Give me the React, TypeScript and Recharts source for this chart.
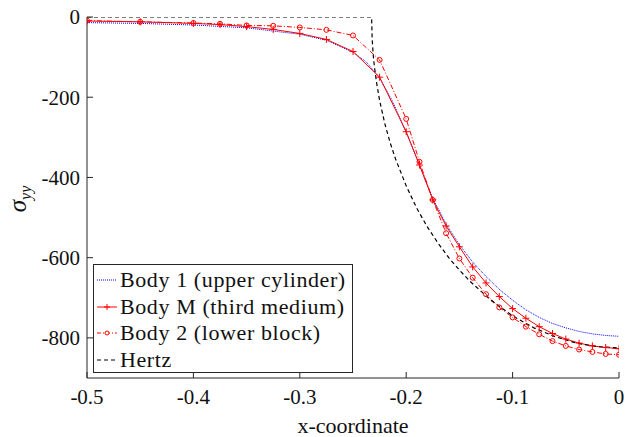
import { LineChart, Line, XAxis, YAxis, Legend } from "recharts";

// mesh nodes shared by Body M and Body 2
const nodeX = [
  -0.5, -0.45, -0.4, -0.375, -0.35, -0.325, -0.3, -0.275, -0.25, -0.225, -0.2,
  -0.1875, -0.175, -0.1625, -0.15, -0.1375, -0.125, -0.1125, -0.1, -0.0875,
  -0.075, -0.0625, -0.05, -0.0375, -0.025, -0.0125, 0,
];
const bodyM = [
  -10, -12, -16, -19, -24, -31, -41, -56, -86, -150, -286, -369, -456, -521,
  -573, -623, -663, -697, -727, -751, -772, -789, -803, -813, -820, -824, -827,
];
const body2 = [
  -9, -12, -15, -17, -21, -22, -26, -32, -46, -107, -254, -361, -456, -539,
  -602, -650, -691, -724, -749, -772, -791, -808, -820, -829, -835, -840, -842,
];

const body1X = [
  -0.5, -0.45, -0.4, -0.35, -0.3, -0.275, -0.25, -0.2375, -0.225, -0.2125, -0.2,
  -0.1875, -0.175, -0.1625, -0.15, -0.1375, -0.125, -0.1125, -0.1, -0.0875,
  -0.075, -0.0625, -0.05, -0.0375, -0.025, -0.0125, 0,
];
const body1 = [
  -14, -16, -20, -27, -43, -58, -88, -112, -152, -212, -288, -370, -452, -516,
  -568, -611, -647, -679, -706, -730, -749, -764, -775, -784, -790, -794, -796,
];

const hertzX = [
  -0.5, -0.3, -0.2325, -0.232, -0.231, -0.23, -0.228, -0.225, -0.22, -0.215,
  -0.21, -0.2, -0.19, -0.18, -0.17, -0.16, -0.15, -0.14, -0.12, -0.1, -0.08,
  -0.06, -0.04, -0.02, 0,
];
const hertz = [
  0, 0, 0, -54, -94, -121, -161, -208, -267, -314, -354, -421, -477, -524, -564,
  -600, -631, -659, -707, -745, -775, -797, -813, -822, -825,
];

const xTicks = [-0.5, -0.4, -0.3, -0.2, -0.1, 0];
const yTicks = [-800, -600, -400, -200, 0];

const legendItems = [
  { name: "Body 1 (upper cylinder)", kind: "dot" },
  { name: "Body M (third medium)", kind: "plus" },
  { name: "Body 2 (lower block)", kind: "circle" },
  { name: "Hertz", kind: "dash" },
];

const mData = nodeX.map((x, i) => ({ x, y: bodyM[i] }));
const b2Data = nodeX.map((x, i) => ({ x, y: body2[i] }));
const b1Data = body1X.map((x, i) => ({ x, y: body1[i] }));
const hData = hertzX.map((x, i) => ({ x, y: hertz[i] }));

const FONT = '"Liberation Serif", serif';
const AXIS = "#262626";

// force the serif face on everything inside the chart
const css = `
#root .serif-chart, #root .serif-chart *, #root .serif-chart svg text, #root .serif-chart svg tspan {
  font-family: "Liberation Serif", "Times New Roman", serif !important;
}
`;

function PlusDot(props: any) {
  const { cx, cy } = props;
  if (cx == null || cy == null) return null;
  return (
    <path
      d={`M${cx - 3.5},${cy}H${cx + 3.5}M${cx},${cy - 3.5}V${cy + 3.5}`}
      stroke="#ff0000"
      strokeWidth={1}
    />
  );
}

function CircleDot(props: any) {
  const { cx, cy } = props;
  if (cx == null || cy == null) return null;
  return <circle cx={cx} cy={cy} r={2.5} fill="none" stroke="#ff0000" strokeWidth={1} />;
}

function Sample({ kind }: { kind: string }) {
  return (
    <svg width={22} height={10} style={{ marginRight: 2 }}>
      {kind === "dot" && (
        <line x1={1} y1={5} x2={21} y2={5} stroke="#0000ff" strokeDasharray="1 1" />
      )}
      {kind === "plus" && (
        <>
          <line x1={1} y1={5} x2={21} y2={5} stroke="#ff0000" />
          <path d="M8,5H14M11,2V8" stroke="#ff0000" />
        </>
      )}
      {kind === "circle" && (
        <>
          <line x1={1} y1={5} x2={21} y2={5} stroke="#ff0000" strokeDasharray="4 2 1 2" />
          <circle cx={11} cy={5} r={2} fill="#fff" stroke="#ff0000" />
        </>
      )}
      {kind === "dash" && (
        <line x1={1} y1={5} x2={21} y2={5} stroke="#000" strokeDasharray="4 3" />
      )}
    </svg>
  );
}

function LegendBox() {
  return (
    <div
      style={{
        border: `1px solid ${AXIS}`,
        background: "#fff",
        width: 260,
        height: 109,
        boxSizing: "border-box",
        padding: "2px 0 0 2px",
        fontFamily: FONT,
        fontSize: 22,
        letterSpacing: 0.6,
        color: "#111",
        textAlign: "left",
      }}
    >
      {legendItems.map((it) => (
        <div key={it.name} style={{ display: "flex", alignItems: "center", height: 26.5 }}>
          <Sample kind={it.kind} />
          <span style={{ lineHeight: "22px" }}>{it.name}</span>
        </div>
      ))}
    </div>
  );
}

function SigmaLabel() {
  return (
    <text
      transform="translate(26,199) rotate(-90)"
      textAnchor="middle"
      fontFamily={FONT}
      fontStyle="italic"
      fontSize={25}
      fill="#111"
    >
      σ
      <tspan fontSize={16} dy={5}>
        yy
      </tspan>
    </text>
  );
}

export default function App() {
  const tickStyle = { fill: "#111", fontSize: 21, fontFamily: FONT };
  return (
    <div
      className="serif-chart"
      style={{ position: "absolute", left: 0, top: 0, background: "#fff", fontFamily: FONT }}
    >
      <style>{css}</style>
      <LineChart
        width={634}
        height={437}
        margin={{ top: 17, right: 15, left: 0, bottom: 0 }}
        style={{ fontFamily: FONT }}
      >
        <XAxis
          dataKey="x"
          type="number"
          domain={[-0.5, 0]}
          ticks={xTicks}
          allowDataOverflow
          height={59}
          tickSize={-6}
          tickMargin={17}
          tick={tickStyle}
          stroke={AXIS}
          label={{
            value: "x-coordinate",
            position: "insideBottom",
            offset: 4,
            fill: "#111",
            fontSize: 22,
            fontFamily: FONT,
          }}
        />
        <XAxis
          xAxisId="top"
          orientation="top"
          type="number"
          domain={[-0.5, 0]}
          ticks={xTicks}
          allowDataOverflow
          height={0}
          tickSize={-6}
          tick={false}
          stroke={AXIS}
        />
        <YAxis
          type="number"
          domain={[-900, 0]}
          ticks={yTicks}
          allowDataOverflow
          width={87}
          tickSize={-6}
          tickMargin={13}
          tick={tickStyle}
          stroke={AXIS}
          label={<SigmaLabel />}
        />
        <YAxis
          yAxisId="right"
          orientation="right"
          type="number"
          domain={[-900, 0]}
          ticks={yTicks}
          allowDataOverflow
          width={0}
          tickSize={-6}
          tick={false}
          stroke={AXIS}
        />
        <Line
          data={b1Data}
          dataKey="y"
          name="Body 1 (upper cylinder)"
          type="linear"
          stroke="#0000ff"
          strokeWidth={1}
          strokeDasharray="1 1"
          dot={false}
          isAnimationActive={false}
        />
        <Line
          data={mData}
          dataKey="y"
          name="Body M (third medium)"
          type="linear"
          stroke="#ff0000"
          strokeWidth={1}
          dot={<PlusDot />}
          isAnimationActive={false}
        />
        <Line
          data={b2Data}
          dataKey="y"
          name="Body 2 (lower block)"
          type="linear"
          stroke="#ff0000"
          strokeWidth={1}
          strokeDasharray="5 2 1 2"
          dot={<CircleDot />}
          isAnimationActive={false}
        />
        <Line
          data={hData}
          dataKey="y"
          name="Hertz"
          type="linear"
          stroke="#000"
          strokeWidth={1.2}
          strokeDasharray="4 3"
          dot={false}
          isAnimationActive={false}
        />
        <Legend
          layout="vertical"
          align="center"
          verticalAlign="middle"
          wrapperStyle={{ left: 93, top: 264, width: 260, height: 109 }}
          content={() => <LegendBox />}
        />
      </LineChart>
    </div>
  );
}
